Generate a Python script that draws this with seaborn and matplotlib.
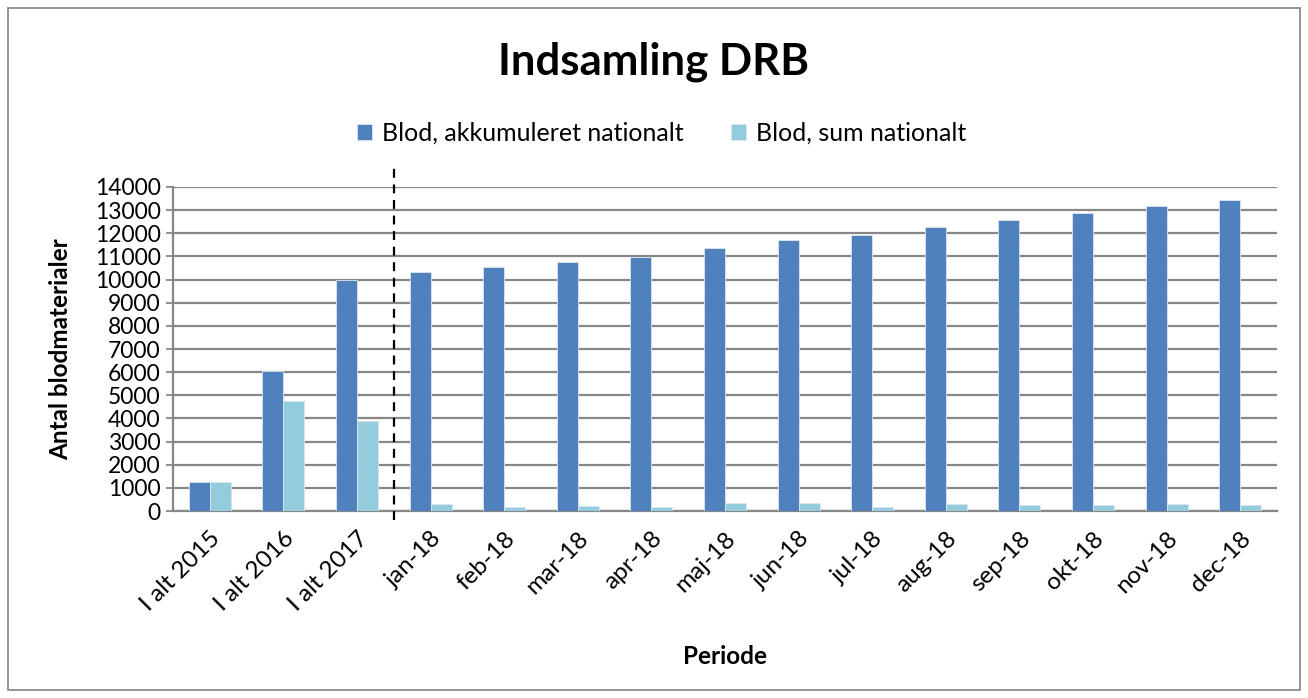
import matplotlib
matplotlib.use("Agg")
import matplotlib.pyplot as plt
import seaborn as sns
import pandas as pd
import numpy as np
from matplotlib.patches import Rectangle

categories = ["I alt 2015", "I alt 2016", "I alt 2017", "jan-18", "feb-18", "mar-18",
              "apr-18", "maj-18", "jun-18", "jul-18", "aug-18", "sep-18", "okt-18",
              "nov-18", "dec-18"]
akkumuleret = [1270, 6060, 10000, 10320, 10530, 10780, 10990, 11350, 11730, 11930,
               12270, 12560, 12860, 13170, 13420]
sum_nationalt = [1270, 4760, 3900, 300, 190, 230, 190, 345, 345, 190, 315, 275, 260, 300, 260]
series_names = ["Blod, akkumuleret nationalt", "Blod, sum nationalt"]
y_ticks = list(range(0, 14001, 1000))

df = pd.DataFrame({
    "Periode": categories * 2,
    "value": akkumuleret + sum_nationalt,
    "serie": [series_names[0]] * len(categories) + [series_names[1]] * len(categories),
})

sns.set_theme(style="white")
plt.rcParams["font.family"] = ["Lato", "DejaVu Sans"]
plt.rcParams["text.color"] = "black"
plt.rcParams["axes.labelcolor"] = "black"
plt.rcParams["xtick.labelcolor"] = "black"
plt.rcParams["ytick.labelcolor"] = "black"

fig = plt.figure(figsize=(13.08, 6.98), dpi=100)
ax = fig.add_axes([173 / 1308, 1 - 511 / 698, (1277 - 173) / 1308, (511 - 187) / 698])

grid_c = "#878787"
sns.barplot(data=df, x="Periode", y="value", hue="serie", order=categories,
            hue_order=series_names, palette=["#4F81BD", "#93CDDD"], width=0.57,
            saturation=1, edgecolor="#DCE6F2", linewidth=0.6, ax=ax, zorder=3)

ax.set_ylim(0, 14000)
ax.set_xlim(-0.5, len(categories) - 0.5)
ax.set_yticks(y_ticks)
ax.set_yticklabels([str(v) for v in y_ticks], fontsize=16.5)
ax.yaxis.grid(True, color=grid_c, linewidth=1.6, zorder=0)
ax.set_axisbelow(True)

ax.set_xticks(range(len(categories)))
ax.set_xticklabels(categories, rotation=45, ha="right", va="top",
                   rotation_mode="anchor", fontsize=17.5)
ax.set_xticks(np.arange(-0.5, len(categories), 1.0), minor=True)
ax.tick_params(axis="x", which="major", length=0, pad=12)
ax.tick_params(axis="x", which="minor", length=8, width=1.3, color=grid_c, direction="out")
ax.tick_params(axis="y", length=5, width=1.3, color=grid_c, direction="out", left=True, pad=4)

for s in ["top", "right"]:
    ax.spines[s].set_visible(False)
for s in ["left", "bottom"]:
    ax.spines[s].set_color(grid_c)
    ax.spines[s].set_linewidth(1.6)

ax.set_xlabel("Periode", fontsize=17.5, fontweight="bold", labelpad=22)
ax.set_ylabel("Antal blodmaterialer", fontsize=17.5, fontweight="bold", labelpad=16)

ax.axvline(2.5, ymin=-0.028, ymax=1.074, color="black", linestyle=(0, (4, 3)),
           linewidth=1.6, clip_on=False, zorder=5)

leg = ax.legend(loc="center", bbox_to_anchor=(662 / 1308, 1 - 133 / 698),
                bbox_transform=fig.transFigure, ncol=2, frameon=False, fontsize=18,
                handlelength=0.6, handleheight=0.6, columnspacing=1.9, handletextpad=0.4)

fig.text(0.5, 1 - 62 / 698, "Indsamling DRB", ha="center", va="center",
         fontsize=31.5, fontweight="bold")

fig.patches.append(Rectangle((8 / 1308, 8 / 698), 1292 / 1308, 682 / 698,
                             transform=fig.transFigure, fill=False,
                             edgecolor="#8C8C8C", linewidth=1.3))

fig.savefig("out.png", dpi=100)
